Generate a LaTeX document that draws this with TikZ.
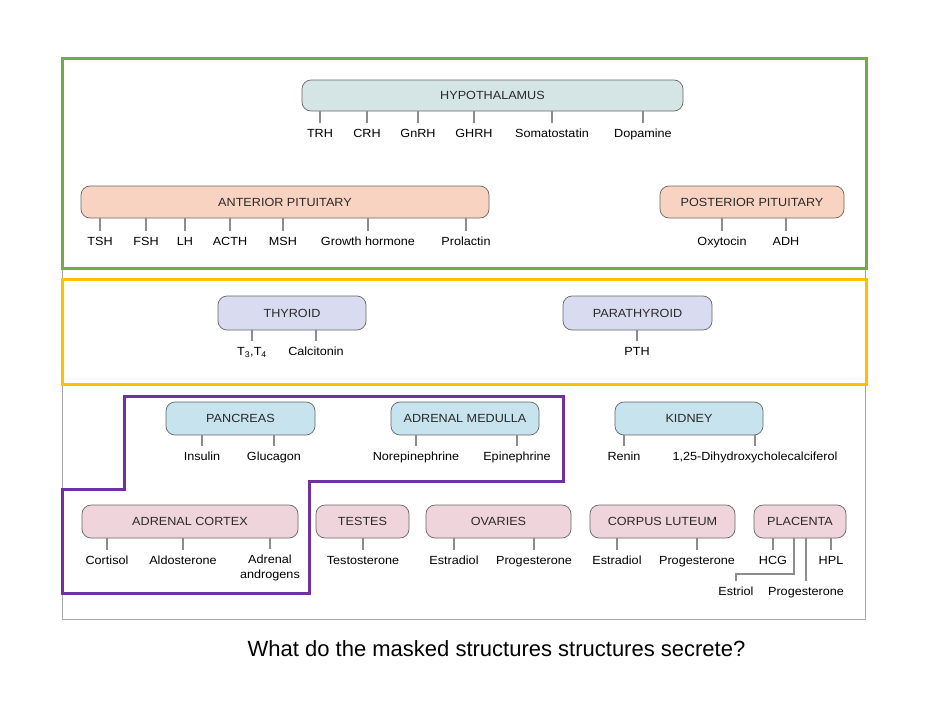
\documentclass[tikz,border=0pt]{standalone}
\usepackage{fontspec}
\setmainfont{Liberation Sans}[FakeStretch=1.07]
\newfontfamily\qfont{Liberation Sans}
\definecolor{boxline}{HTML}{666666}
\definecolor{boxtext}{HTML}{2A2A2A}
\definecolor{tickgray}{HTML}{8C8C8C}
\definecolor{hypfill}{HTML}{D5E4E5}
\definecolor{pitfill}{HTML}{F9D3C2}
\definecolor{thyfill}{HTML}{D9DBF1}
\definecolor{bluefill}{HTML}{C7E3ED}
\definecolor{pinkfill}{HTML}{EFD4DB}
\definecolor{framegray}{HTML}{A6A6A6}
\definecolor{fgreen}{HTML}{70AD47}
\definecolor{fyellow}{HTML}{FFC000}
\definecolor{fpurple}{HTML}{7030A0}
\begin{document}
\begin{tikzpicture}[x=1pt,y=-1pt,
  organ/.style={draw=boxline, line width=0.7pt, rounded corners=9pt, inner sep=0pt,
    minimum height=32pt, font=\fontsize{11.8}{14}\selectfont, text=boxtext},
  lab/.style={anchor=north, inner sep=0pt, text height=8.5pt, text depth=2pt,
    font=\fontsize{11.8}{14}\selectfont, text=black},
  lab2/.style={anchor=north, inner sep=0pt, align=center,
    font=\fontsize{11.8}{14.5}\selectfont, text=black},
  tick/.style={draw=tickgray, line width=1.2pt, shorten >=6pt},
  frame/.style={line width=3pt}]
\useasboundingbox (0,0) rectangle (929,712);

% outer gray frame
\draw[framegray, line width=1pt] (62,58) rectangle (865,619);

% HYPOTHALAMUS
\node[organ, fill=hypfill, minimum width=381pt, minimum height=31pt] (hyp) at (492.5,95.5) {HYPOTHALAMUS};
\node[lab] (trh) at (320,128.5) {TRH};
\node[lab] (crh) at (367,128.5) {CRH};
\node[lab] (gnrh) at (418,128.5) {GnRH};
\node[lab] (ghrh) at (474,128.5) {GHRH};
\node[lab] (soma) at (552,128.5) {Somatostatin};
\node[lab] (dopa) at (643,128.5) {Dopamine};
\foreach \n in {trh,crh,gnrh,ghrh,soma,dopa} \draw[tick] (hyp.south -| \n.north) -- (\n.north);

% ANTERIOR PITUITARY
\node[organ, fill=pitfill, minimum width=408pt] (ant) at (285,202) {ANTERIOR PITUITARY};
\node[lab] (tsh) at (100,236.5) {TSH};
\node[lab] (fsh) at (146,236.5) {FSH};
\node[lab] (lh) at (185,236.5) {LH};
\node[lab] (acth) at (230,236.5) {ACTH};
\node[lab] (msh) at (283,236.5) {MSH};
\node[lab] (gh) at (368,236.5) {Growth hormone};
\node[lab] (prl) at (466,236.5) {Prolactin};
\foreach \n in {tsh,fsh,lh,acth,msh,gh,prl} \draw[tick] (ant.south -| \n.north) -- (\n.north);

% POSTERIOR PITUITARY
\node[organ, fill=pitfill, minimum width=184pt] (post) at (752,202) {POSTERIOR PITUITARY};
\node[lab] (oxy) at (722,236.5) {Oxytocin};
\node[lab] (adh) at (786,236.5) {ADH};
\foreach \n in {oxy,adh} \draw[tick] (post.south -| \n.north) -- (\n.north);

% THYROID
\node[organ, fill=thyfill, minimum width=148pt, minimum height=34pt] (thy) at (292,313) {THYROID};
\node[lab] (tt) at (252,346.5) {T\textsubscript{3},T\textsubscript{4}};
\node[lab] (calc) at (316,346.5) {Calcitonin};
\foreach \n in {tt,calc} \draw[tick] (thy.south -| \n.north) -- (\n.north);

% PARATHYROID
\node[organ, fill=thyfill, minimum width=149pt, minimum height=34pt] (para) at (637.5,313) {PARATHYROID};
\node[lab] (pth) at (637,346.5) {PTH};
\draw[tick] (para.south -| pth.north) -- (pth.north);

% PANCREAS
\node[organ, fill=bluefill, minimum width=149pt, minimum height=33pt] (panc) at (240.5,418.5) {PANCREAS};
\node[lab] (ins) at (202,451.5) {Insulin};
\node[lab] (glu) at (274,451.5) {Glucagon};
\foreach \n in {ins,glu} \draw[tick] (panc.south -| \n.north) -- (\n.north);

% ADRENAL MEDULLA
\node[organ, fill=bluefill, minimum width=148pt, minimum height=33pt] (adm) at (465,418.5) {ADRENAL MEDULLA};
\node[lab] (nor) at (416,451.5) {Norepinephrine};
\node[lab] (epi) at (517,451.5) {Epinephrine};
\foreach \n in {nor,epi} \draw[tick] (adm.south -| \n.north) -- (\n.north);

% KIDNEY
\node[organ, fill=bluefill, minimum width=148pt, minimum height=33pt] (kid) at (689,418.5) {KIDNEY};
\node[lab] (ren) at (624,451.5) {Renin};
\node[lab] (dhc) at (755,451.5) {1,25-Dihydroxycholecalciferol};
\foreach \n in {ren,dhc} \draw[tick] (kid.south -| \n.north) -- (\n.north);

% ADRENAL CORTEX
\node[organ, fill=pinkfill, minimum width=216pt, minimum height=33pt] (adc) at (190,521.5) {ADRENAL CORTEX};
\node[lab] (cort) at (107,555.5) {Cortisol};
\node[lab] (aldo) at (183,555.5) {Aldosterone};
\node[lab2] (andro) at (270,555) {Adrenal\\androgens};
\foreach \n in {cort,aldo,andro} \draw[tick] (adc.south -| \n.north) -- (\n.north);

% TESTES
\node[organ, fill=pinkfill, minimum width=93pt, minimum height=33pt] (tes) at (362.5,521.5) {TESTES};
\node[lab] (testo) at (363,555.5) {Testosterone};
\draw[tick] (tes.south -| testo.north) -- (testo.north);

% OVARIES
\node[organ, fill=pinkfill, minimum width=145pt, minimum height=33pt] (ova) at (498.5,521.5) {OVARIES};
\node[lab] (estA) at (454,555.5) {Estradiol};
\node[lab] (progA) at (534,555.5) {Progesterone};
\foreach \n in {estA,progA} \draw[tick] (ova.south -| \n.north) -- (\n.north);

% CORPUS LUTEUM
\node[organ, fill=pinkfill, minimum width=145pt, minimum height=33pt] (cl) at (662.5,521.5) {CORPUS LUTEUM};
\node[lab] (estB) at (617,555.5) {Estradiol};
\node[lab] (progB) at (697,555.5) {Progesterone};
\foreach \n in {estB,progB} \draw[tick] (cl.south -| \n.north) -- (\n.north);

% PLACENTA
\node[organ, fill=pinkfill, minimum width=92pt, minimum height=33pt] (pla) at (800,521.5) {PLACENTA};
\node[lab] (hcg) at (773,555.5) {HCG};
\node[lab] (hpl) at (831,555.5) {HPL};
\foreach \n in {hcg,hpl} \draw[tick] (pla.south -| \n.north) -- (\n.north);
\node[lab] (estriol) at (736,586.5) {Estriol};
\node[lab] (progC) at (806,586.5) {Progesterone};
\coordinate (bend) at (794,574);
\draw[tick] (pla.south -| bend) -- (bend) -| (estriol.north);
\draw[tick] (pla.south -| progC.north) -- (progC.north);

% colored frames
\draw[frame, fgreen] (62,58) rectangle (866,268);
\draw[frame, fyellow] (62,279) rectangle (866,384);
\draw[frame, fpurple, line join=miter] (124,396) -- (563,396) -- (563,481) -- (309,481) -- (309,593) -- (62,593) -- (62,489) -- (124,489) -- cycle;

% question
\node[font=\qfont\fontsize{22}{26}\selectfont, inner sep=0pt] (q) at (496.5,649) {What do the masked structures structures secrete?};
\end{tikzpicture}
\end{document}
